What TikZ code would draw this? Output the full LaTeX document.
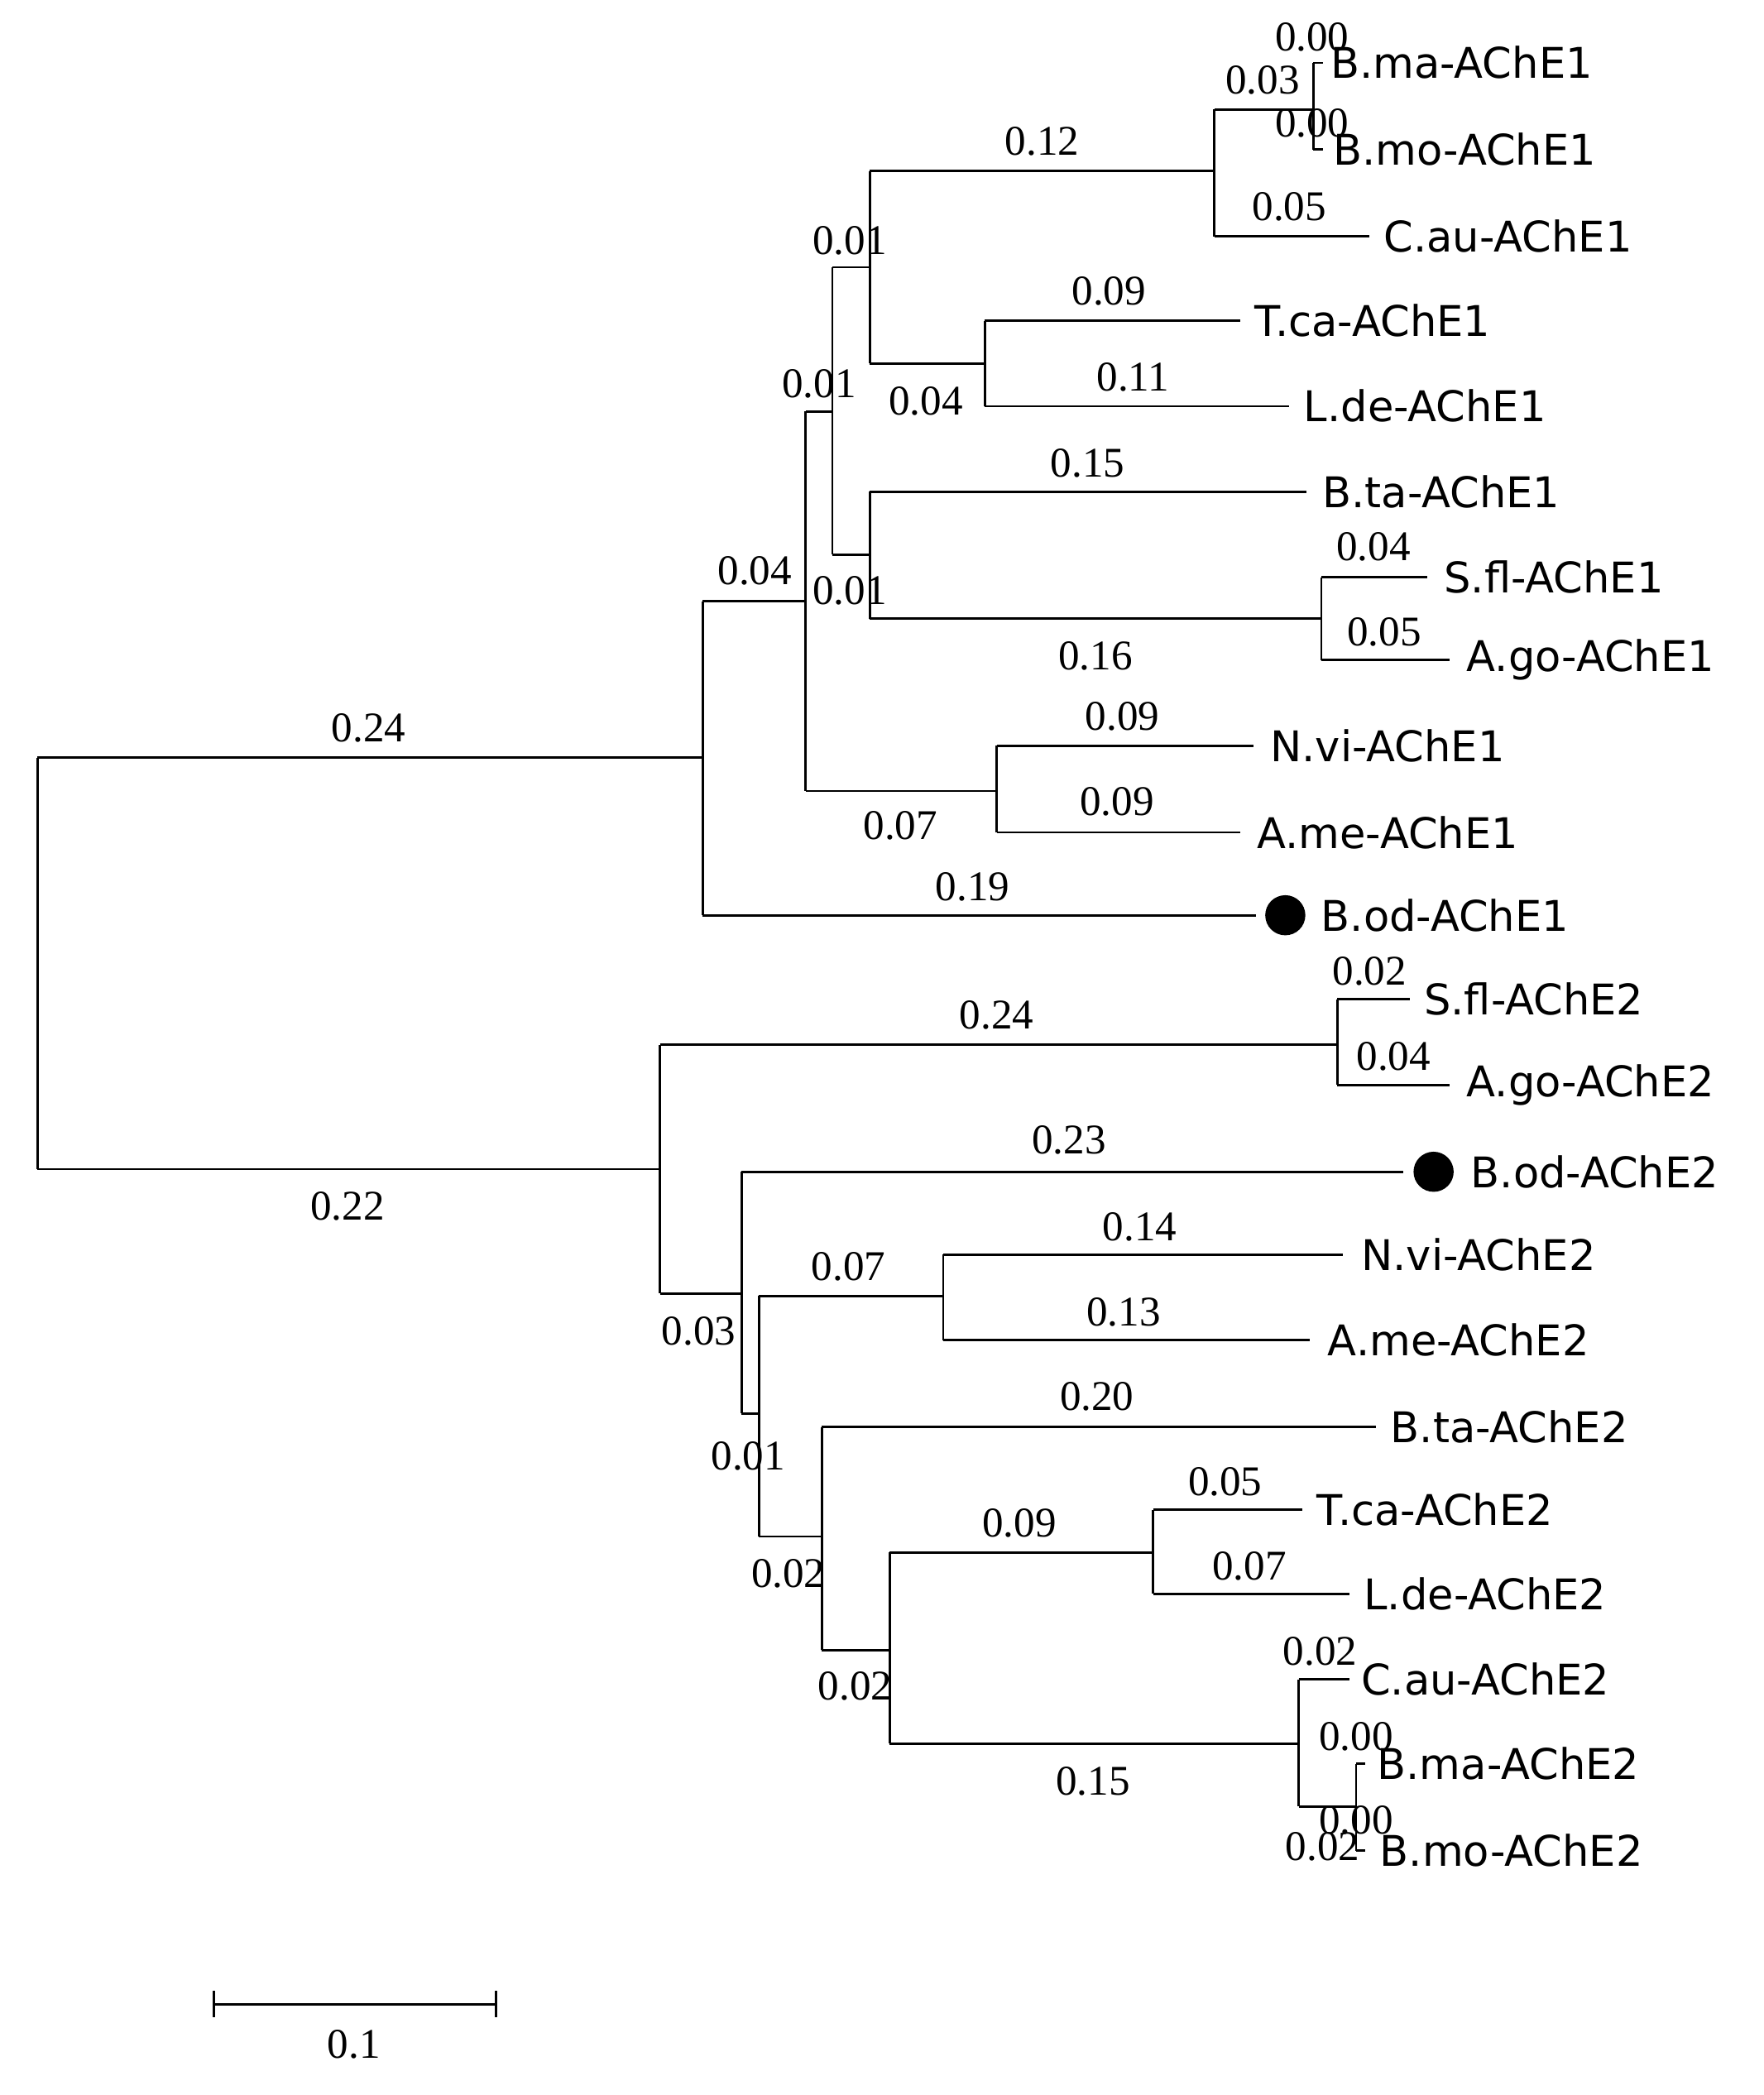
\documentclass[tikz,border=0pt]{standalone}
\usepackage{fontspec}
\setmainfont{Liberation Serif}
\newfontfamily\taxfont{DejaVu Sans}
\begin{document}
\begin{tikzpicture}[x=0.01cm,y=-0.01cm,line width=0.5pt,
  num/.style={font=\fontsize{9}{10}\selectfont,inner sep=0pt},
  tax/.style={font=\taxfont\fontsize{9}{10}\selectfont,anchor=west,inner sep=0pt},
  dot/.style={circle,fill=black,minimum size=0.3cm,inner sep=0pt}]
\useasboundingbox (0,0) rectangle (1320,1568);
% upper clade
\draw (28,567) -- (28,875);
\draw (28,567) -- (526,567);
\draw (526,450) -- (526,685);
\draw (526,450) -- (603,450);
\draw (603,308) -- (603,592);
\draw (603,308) -- (623,308);
\draw (623,200) -- (623,415);
\draw (623,200) -- (651,200);
\draw (651,128) -- (651,272);
\draw (651,128) -- (909,128);
\draw (909,82) -- (909,177);
\draw (909,82) -- (983,82);
\draw (983,47) -- (983,112);
\draw (983,47) -- (990,47); \draw (983,112) -- (990,112);
\draw (909,177) -- (1025,177);
\draw (651,272) -- (737,272);
\draw (737,240) -- (737,304);
\draw (737,240) -- (928,240); \draw (737,304) -- (965,304);
\draw (623,415) -- (651,415);
\draw (651,368) -- (651,463);
\draw (651,368) -- (978,368);
\draw (651,463) -- (989,463);
\draw (989,432) -- (989,494);
\draw (989,432) -- (1068,432); \draw (989,494) -- (1085,494);
\draw (603,592) -- (746,592);
\draw (746,558) -- (746,623);
\draw (746,558) -- (938,558); \draw (746,623) -- (928,623);
\draw (526,685) -- (940,685);
\node[dot] (d1) at (962,685) {};
% lower clade
\draw (28,875) -- (494,875);
\draw (494,782) -- (494,968);
\draw (494,782) -- (1001,782);
\draw (1001,748) -- (1001,812);
\draw (1001,748) -- (1055,748); \draw (1001,812) -- (1085,812);
\draw (494,968) -- (555,968);
\draw (555,877) -- (555,1058);
\draw (555,877) -- (1050,877);
\node[dot] (d2) at (1073,877) {};
\draw (555,1058) -- (568,1058);
\draw (568,970) -- (568,1150);
\draw (568,970) -- (706,970);
\draw (706,939) -- (706,1003);
\draw (706,939) -- (1005,939); \draw (706,1003) -- (980,1003);
\draw (568,1150) -- (615,1150);
\draw (615,1068) -- (615,1235);
\draw (615,1068) -- (1030,1068);
\draw (615,1235) -- (666,1235);
\draw (666,1162) -- (666,1305);
\draw (666,1162) -- (863,1162);
\draw (863,1130) -- (863,1193);
\draw (863,1130) -- (975,1130); \draw (863,1193) -- (1010,1193);
\draw (666,1305) -- (972,1305);
\draw (972,1257) -- (972,1352);
\draw (972,1257) -- (1010,1257);
\draw (972,1352) -- (1015,1352);
\draw (1015,1320) -- (1015,1385);
\draw (1015,1320) -- (1022,1320); \draw (1015,1385) -- (1022,1385);
% scale bar
\draw (160,1500) -- (371,1500);
\draw (160,1490) -- (160,1510); \draw (371,1490) -- (371,1510);
\node[num] (sb) at (265,1530) {0.1};
% numbers
\foreach \x/\y/\t [count=\i] in {982/28/0.00,945/60/0.03,982/92/0.00,780/106/0.12,965/155/0.05,636/180/0.01,830/218/0.09,613/287/0.01,693/300/0.04,848/282/0.11,814/347/0.15,1028/409/0.04,565/427/0.04,636/442/0.01,1036/473/0.05,820/491/0.16,276/545/0.24,840/536/0.09,836/600/0.09,674/618/0.07,728/664/0.19,1025/727/0.02,746/760/0.24,1043/791/0.04,800/853/0.23,260/903/0.22,853/918/0.14,635/948/0.07,841/982/0.13,523/996/0.03,821/1045/0.20,560/1090/0.01,917/1109/0.05,763/1140/0.09,935/1172/0.07,590/1178/0.02,988/1236/0.02,640/1262/0.02,1015/1300/0.00,818/1333/0.15,1015/1362/0.00,990/1382/0.02}
  \node[num] (n\i) at (\x,\y) {\t};
% taxa
\foreach \x/\y/\t [count=\i] in {995/47/B.ma-AChE1,997/112/B.mo-AChE1,1035/177/C.au-AChE1,938/240/T.ca-AChE1,975/304/L.de-AChE1,989/368/B.ta-AChE1,1080/432/S.fl-AChE1,1097/494/A.go-AChE1,950/558/N.vi-AChE1,940/623/A.me-AChE1,988/685/B.od-AChE1,1065/748/S.fl-AChE2,1097/812/A.go-AChE2,1100/877/B.od-AChE2,1018/939/N.vi-AChE2,993/1003/A.me-AChE2,1040/1068/B.ta-AChE2,985/1130/T.ca-AChE2,1020/1193/L.de-AChE2,1018/1257/C.au-AChE2,1030/1320/B.ma-AChE2,1032/1385/B.mo-AChE2}
  \node[tax] (t\i) at (\x,\y) {\t};
\end{tikzpicture}
\end{document}
